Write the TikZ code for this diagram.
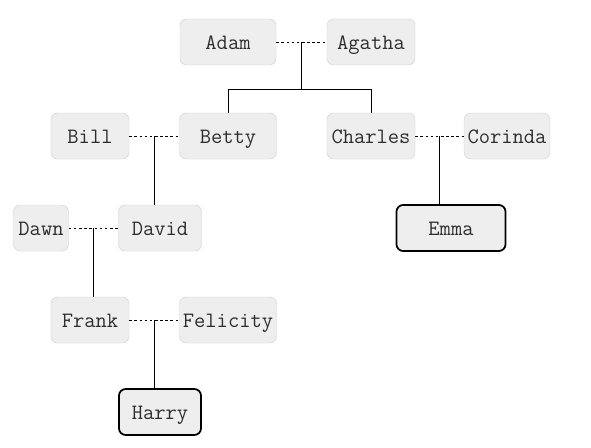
\documentclass[tikz,border=0pt]{standalone}
\usepackage{fontspec}
\usetikzlibrary{positioning}
\definecolor{boxfill}{HTML}{EEEEEE}
\definecolor{boxline}{HTML}{D2D2D2}
\definecolor{nametext}{HTML}{2E2E2E}
\tikzstyle{person} = [draw=boxline, fill=boxfill, text=nametext, text centered, text height=16pt, text depth=3pt, minimum height=1.38cm, rounded corners=0.2cm, inner sep=0pt, font=\ttfamily\fontsize{18.7}{21}\selectfont]
\tikzstyle{leaf} = [person, draw=black, line width=1.5pt]
\tikzstyle{couple} = [draw, dashed, dash pattern=on 2.2pt off 2.2pt, line width=0.7pt]
\tikzstyle{child} = [draw, line width=0.8pt]
\newcommand{\person}[3]{node (#1) [person, minimum width=#3] {#2}}
\newcommand{\leaf}[3]{node (#1) [leaf, minimum width=#3] {#2}}

\begin{document}
\begin{tikzpicture}[x=0.03cm,y=-0.03cm]
\useasboundingbox (0,0) rectangle (591,447);
% first generation
\path (228,42) \person{adam}{Adam}{2.88cm};
\path (adam)+(143,0) \person{agatha}{Agatha}{2.64cm};
\path [couple] (adam.east) -- (agatha.west) coordinate[midway] (m1);
% second generation
\path (adam)+(0,94) \person{betty}{Betty}{2.91cm};
\path (betty)+(-138,0) \person{bill}{Bill}{2.34cm};
\path (agatha)+(0,94) \person{charles}{Charles}{2.64cm};
\path (charles)+(136,0) \person{corinda}{Corinda}{2.58cm};
\path [child] (m1) -- ++(0,47) -| (betty.north);
\path [child] (m1) -- ++(0,47) -| (charles.north);
\path [couple] (bill.east) -- (betty.west) coordinate[midway] (m2);
\path [couple] (charles.east) -- (corinda.west) coordinate[midway] (m3);
% third generation
\path (bill)+(70,92) \person{david}{David}{2.49cm};
\path (david)+(-119,0) \person{dawn}{Dawn}{1.65cm};
\path (corinda)+(-56,92) \leaf{emma}{Emma}{3.27cm};
\path [child] (m2) -- (m2 |- david.north);
\path [child] (m3) -- (m3 |- emma.north);
\path [couple] (dawn.east) -- (david.west) coordinate[midway] (m4);
% fourth generation
\path (bill)+(0,184) \person{frank}{Frank}{2.34cm};
\path (frank)+(138,0) \person{felicity}{Felicity}{2.91cm};
\path [child] (m4) -- (m4 |- frank.north);
\path [couple] (frank.east) -- (felicity.west) coordinate[midway] (m5);
\path (david)+(0,184) \leaf{harry}{Harry}{2.46cm};
\path [child] (m5) -- (m5 |- harry.north);
\end{tikzpicture}
\end{document}
